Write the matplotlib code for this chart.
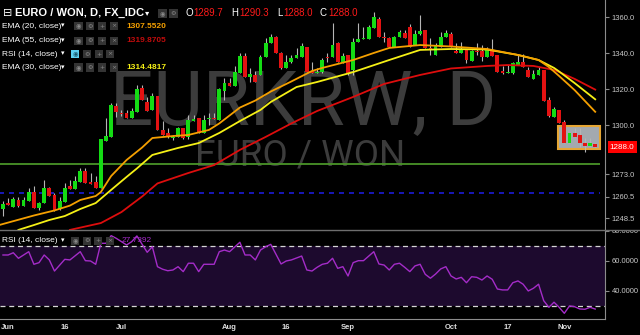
import numpy as np
import matplotlib
matplotlib.use("Agg")
import matplotlib.pyplot as plt
from matplotlib.patches import Rectangle
from matplotlib.lines import Line2D
from matplotlib.transforms import blended_transform_factory

# daily candles, index 0 = 31 May ... 115 = 9 Nov
opens = [1253.8, 1256.8, 1254.9, 1258.6, 1255.4, 1258.0, 1263.2, 1254.3, 1257.1, 1265.1,
         1261.4, 1253.4, 1257.7, 1266.4, 1264.7, 1268.8, 1274.7, 1268.8, 1268.8, 1265.1,
         1291.5, 1293.7, 1310.8, 1307.1, 1306.7, 1303.9, 1307.6, 1320.6, 1313.2, 1308.6,
         1316.3, 1297.5, 1295.6, 1292.9, 1293.4, 1298.4, 1293.4, 1302.6, 1303.9, 1295.6,
         1303.4, 1304.3, 1303.0, 1319.3, 1323.7, 1321.9, 1329.2, 1338.5, 1327.0, 1328.0,
         1328.0, 1338.1, 1345.6, 1349.2, 1340.4, 1331.7, 1335.0, 1337.6, 1338.1, 1343.7,
         1330.4, 1328.9, 1329.8, 1337.8, 1338.1, 1345.6, 1335.4, 1339.1, 1330.7, 1346.5,
         1347.8, 1347.8, 1353.9, 1358.9, 1349.2, 1348.3, 1343.7, 1349.2, 1351.1, 1354.8,
         1344.6, 1350.6, 1352.9, 1343.1, 1339.1, 1343.7, 1348.9, 1350.7, 1341.3, 1340.4,
         1342.2, 1335.9, 1341.5, 1341.5, 1338.1, 1341.9, 1339.1, 1330.2, 1328.9, 1328.9,
         1333.5, 1335.4, 1330.7, 1325.8, 1328.0, 1330.7, 1314.1, 1304.5, 1308.6, 1301.9,
         1290.0, 1295.6, 1294.7, 1290.1, 1288.6, 1289.7]
highs = [1258.2, 1259.5, 1260.4, 1260.1, 1260.4, 1265.4, 1266.4, 1257.7, 1269.7, 1266.0,
         1262.7, 1260.4, 1267.9, 1269.7, 1271.9, 1276.2, 1276.2, 1273.4, 1271.9, 1292.3,
         1303.9, 1312.4, 1312.3, 1308.6, 1308.6, 1309.5, 1322.4, 1322.4, 1315.9, 1318.0,
         1316.3, 1302.4, 1298.4, 1294.7, 1299.3, 1298.4, 1305.8, 1305.8, 1303.9, 1305.8,
         1306.7, 1306.7, 1320.8, 1326.1, 1326.1, 1333.0, 1340.2, 1340.0, 1331.7, 1330.2,
         1339.1, 1348.3, 1350.6, 1349.8, 1340.9, 1339.1, 1339.1, 1342.8, 1345.6, 1343.7,
         1335.0, 1331.7, 1337.2, 1340.2, 1357.0, 1346.5, 1340.0, 1339.1, 1348.3, 1356.7,
         1354.8, 1355.7, 1363.1, 1360.3, 1352.0, 1349.2, 1349.8, 1353.0, 1353.0, 1356.3,
         1353.0, 1361.3, 1353.0, 1348.3, 1345.6, 1352.0, 1353.0, 1351.9, 1345.6, 1346.5,
         1342.2, 1341.9, 1345.6, 1344.6, 1343.7, 1347.8, 1339.1, 1333.0, 1333.5, 1335.4,
         1339.1, 1339.6, 1332.6, 1330.7, 1332.6, 1330.7, 1315.9, 1310.4, 1308.6, 1303.0,
         1296.0, 1298.4, 1298.4, 1292.8, 1292.8, 1290.3]
lows = [1249.7, 1255.7, 1254.9, 1254.9, 1255.4, 1258.0, 1254.3, 1253.0, 1257.1, 1261.0,
        1252.5, 1253.0, 1257.7, 1264.5, 1264.7, 1268.8, 1268.2, 1267.5, 1265.1, 1265.1,
        1291.5, 1293.7, 1304.8, 1305.2, 1303.9, 1303.9, 1307.6, 1314.1, 1308.2, 1308.6,
        1297.5, 1294.7, 1292.9, 1291.9, 1293.4, 1292.3, 1292.3, 1302.6, 1295.6, 1295.6,
        1300.2, 1303.4, 1303.0, 1314.1, 1321.9, 1321.9, 1329.2, 1327.0, 1324.3, 1324.3,
        1328.0, 1338.1, 1345.6, 1340.0, 1331.3, 1331.7, 1334.5, 1337.2, 1338.1, 1329.8,
        1328.9, 1328.9, 1328.9, 1335.4, 1338.1, 1335.4, 1334.5, 1328.0, 1328.0, 1346.5,
        1347.8, 1347.8, 1353.9, 1348.9, 1346.5, 1343.7, 1343.7, 1349.2, 1348.3, 1343.7,
        1344.6, 1350.2, 1342.8, 1339.1, 1339.1, 1343.7, 1348.9, 1343.7, 1340.0, 1340.0,
        1334.5, 1335.9, 1339.1, 1335.9, 1338.1, 1338.5, 1329.8, 1328.5, 1328.9, 1328.5,
        1333.5, 1332.6, 1326.7, 1325.8, 1328.0, 1313.7, 1304.8, 1304.5, 1301.2, 1290.5,
        1290.0, 1293.7, 1288.2, 1285.4, 1288.6, 1288.0]
closes = [1256.4, 1255.7, 1259.0, 1255.4, 1258.6, 1263.2, 1254.3, 1257.1, 1265.1, 1261.0,
          1253.1, 1258.0, 1265.1, 1264.5, 1269.3, 1274.7, 1268.2, 1267.5, 1265.1, 1292.3,
          1294.1, 1311.3, 1307.6, 1306.2, 1303.9, 1308.2, 1320.2, 1314.1, 1308.2, 1316.3,
          1297.5, 1294.7, 1293.4, 1293.7, 1298.4, 1292.9, 1303.0, 1303.6, 1295.6, 1303.0,
          1304.3, 1303.4, 1320.2, 1323.7, 1321.9, 1329.8, 1338.7, 1327.0, 1328.4, 1324.3,
          1338.1, 1345.6, 1349.2, 1340.0, 1331.7, 1335.4, 1337.6, 1339.1, 1344.2, 1329.8,
          1328.9, 1329.8, 1336.3, 1337.6, 1344.6, 1335.4, 1338.7, 1328.9, 1346.5, 1347.8,
          1348.7, 1354.4, 1360.0, 1349.2, 1348.3, 1343.7, 1349.2, 1352.0, 1348.3, 1343.7,
          1350.7, 1352.4, 1342.8, 1341.9, 1344.1, 1349.2, 1351.5, 1343.7, 1340.4, 1342.4,
          1336.3, 1341.5, 1340.9, 1338.1, 1342.4, 1338.5, 1329.8, 1329.3, 1329.8, 1334.5,
          1335.4, 1332.6, 1326.7, 1328.5, 1330.7, 1313.7, 1305.2, 1308.9, 1301.2, 1290.5,
          1295.6, 1293.7, 1290.1, 1288.6, 1290.1, 1288.0]

# moving averages (bar index, value)
ema20_k = [-1, 6, 10, 13, 15, 18, 19, 21, 24, 27, 29, 33, 36, 40, 42, 46, 49, 52, 56, 60,
           62, 68, 72, 75, 81, 87, 94, 100, 104, 106, 108, 111, 115]
ema20_v = [1244.5, 1250.0, 1252.8, 1255.5, 1258.6, 1260.8, 1263.0, 1271.9, 1280.8, 1287.7,
           1293.0, 1294.1, 1294.7, 1297.5, 1301.1, 1309.9, 1313.8, 1318.8, 1324.4, 1330.2,
           1331.9, 1336.3, 1340.2, 1343.0, 1344.6, 1343.8, 1342.4, 1339.1, 1336.3, 1332.4,
           1327.4, 1319.6, 1307.552]
ema30_k = [3, 6, 9, 12, 15, 18, 21, 24, 26, 29, 34, 38, 42, 46, 50, 52, 57, 61, 68, 75,
           81, 87, 94, 100, 104, 107, 108, 111, 115]
ema30_v = [1242.0, 1244.7, 1247.5, 1249.7, 1253.6, 1256.9, 1264.2, 1271.4, 1276.1, 1283.6,
           1287.5, 1290.2, 1295.8, 1302.4, 1308.6, 1313.0, 1321.3, 1324.1, 1329.6, 1336.3,
           1341.9, 1342.4, 1342.1, 1339.1, 1336.3, 1331.9, 1329.9, 1323.5, 1314.4817]
ema55_k = [13, 19, 23, 27, 30, 36, 41, 46, 51, 56, 61, 68, 74, 81, 87, 94, 98, 103, 107,
           108, 111, 115]
ema55_v = [1242.0, 1245.8, 1251.9, 1260.5, 1267.8, 1273.6, 1278.0, 1286.4, 1293.6, 1301.1,
           1308.0, 1315.8, 1323.0, 1328.0, 1331.6, 1333.0, 1333.5, 1333.0, 1330.8, 1329.6,
           1325.8, 1319.8705]

rsi_k = [0, 1, 2, 3, 5, 6, 7, 8, 9, 10, 12, 13, 15, 16, 17, 18, 19, 20, 21, 22, 24, 25, 26,
         28, 29, 30, 31, 32, 33, 34, 35, 36, 37, 38, 39, 41, 42, 43, 44, 46, 47, 48, 49, 50,
         51, 52, 54, 55, 56, 58, 59, 60, 61, 62, 63, 64, 65, 66, 67, 68, 69, 70, 72, 73, 74,
         75, 76, 77, 78, 79, 80, 81, 82, 83, 84, 85, 86, 87, 88, 89, 90, 91, 92, 93, 94, 95,
         96, 97, 98, 99, 100, 101, 102, 103, 104, 105, 106, 107, 108, 109, 110, 111, 112,
         113, 114, 115]
rsi_v = [63.8, 63.8, 65.3, 61.6, 66.0, 57.6, 58.7, 63.8, 60.5, 53.1, 60.9, 60.5, 66.0, 60.0,
         59.8, 57.6, 71.6, 71.6, 76.7, 74.9, 70.5, 72.7, 76.5, 65.6, 69.3, 56.0, 54.3, 53.3,
         53.8, 56.0, 52.7, 58.3, 58.3, 52.7, 57.6, 57.6, 66.0, 67.1, 66.0, 72.3, 63.8, 63.8,
         60.5, 67.1, 69.3, 70.9, 57.8, 59.8, 60.5, 63.1, 53.8, 53.1, 55.6, 57.6, 58.3, 61.6,
         54.9, 56.0, 49.8, 58.7, 60.0, 60.0, 66.0, 57.8, 57.1, 53.8, 57.6, 58.3, 55.6, 52.7,
         56.5, 57.6, 50.9, 48.3, 51.1, 54.5, 56.0, 49.8, 47.8, 48.9, 45.3, 49.3, 48.9, 47.1,
         49.8, 47.6, 41.1, 40.5, 40.5, 45.3, 46.5, 44.3, 39.8, 41.6, 44.3, 33.3, 28.9, 32.3,
         28.9, 24.9, 29.8, 29.3, 27.8, 27.6, 28.9, 27.74]

date_k = [1, 12, 23, 44, 55, 67, 87, 98, 109]
date_lbl = ["Jun", "16", "Jul", "Aug", "16", "Sep", "Oct", "17", "Nov"]
price_ticks = [1360.0, 1340.0, 1320.0, 1300.0, 1273.0, 1260.5, 1248.5]
rsi_ticks = [80, 60, 40]

support = 1278.6
dashed_level = 1262.5

W, H = 640, 335
FONT = ["Liberation Sans", "DejaVu Sans"]
GREEN = "#14dc14"
RED = "#e31212"
WICK = "#b5b5b5"
LABEL = "#c8c8c8"

fig = plt.figure(figsize=(W / 100, H / 100), dpi=100)
fig.patch.set_facecolor("black")

ax = fig.add_axes([0, 1 - 230 / H, 605 / W, 230 / H])
ax_rsi = fig.add_axes([0, 1 - 319 / H, 605 / W, 89 / H], sharex=ax)

for a in (ax, ax_rsi):
    a.set_facecolor("black")
    for side in ("top", "left", "bottom"):
        a.spines[side].set_visible(False)
    a.spines["right"].set_color("#8c8c8c")
    a.yaxis.tick_right()
    a.tick_params(axis="y", length=3, color="#8c8c8c", labelsize=5.5,
                  labelcolor=LABEL, pad=2)

# ---- price panel
idx = np.arange(len(closes))
o = np.array(opens)
c = np.array(closes)
body_lo = np.minimum(o, c)
body_h = np.maximum(np.abs(c - o), 0.5)
colors = np.where(c >= o, GREEN, RED)

ax.vlines(idx, lows, highs, color=WICK, lw=0.8, zorder=3)
ax.bar(idx, body_h, bottom=body_lo, width=0.74, color=colors, lw=0, zorder=4)

ax.plot(ema55_k, ema55_v, color="#dd0d0d", lw=1.3, zorder=5)
ax.plot(ema30_k, ema30_v, color="#f5f016", lw=1.3, zorder=5)
ax.plot(ema20_k, ema20_v, color="#f5a000", lw=1.3, zorder=5)

ax.hlines(support, -1, 115.9, color="#4a9428", lw=1.3, zorder=2)
ax.hlines(dashed_level, -1, 115.9, color="#1c1cd8", lw=1.2, linestyles=(0, (3, 3)), zorder=2)
ax.add_patch(Rectangle((107.8, 1287.1), 8.1, 12.6, fc="#a3a9af", ec="#e6a634",
                       lw=1.5, zorder=2))

ax.set_xlim(-0.58, 116.9)
ax.set_ylim(1241.95, 1369.6)
ax.set_yticks(price_ticks)
ax.set_yticklabels([f"{t:.1f}" for t in price_ticks], family=FONT)
ax.tick_params(axis="x", bottom=False, labelbottom=False)

trans = blended_transform_factory(ax.transAxes, ax.transData)
ax.text(1.008, closes[-1], f"{closes[-1]:.1f}", transform=trans, color="white",
        fontsize=5.8, family=FONT, va="center", ha="left", zorder=10,
        bbox=dict(fc="#ff0000", ec="none", pad=1.6))

# watermark
ax.text(303.5 / 605, 1 - 125 / 230, "EURKRW, D", transform=ax.transAxes, ha="center",
        va="baseline", fontsize=55, family="Roboto", color="#3c3c3c", zorder=0.5)
ax.text(300 / 605, 1 - 165 / 230, "EURO / WON", transform=ax.transAxes, ha="center",
        va="baseline", fontsize=26.5, family="Roboto", color="#3c3c3c", zorder=0.5)

# ---- RSI panel
ax_rsi.axhspan(30, 70, color="#1d0a2e", lw=0, zorder=1)
for lvl in (70, 30):
    ax_rsi.axhline(lvl, color="#d5d5d5", lw=0.9, ls=(0, (4, 3)), zorder=2)
ax_rsi.plot(rsi_k, rsi_v, color="#a42cc8", lw=1.0, zorder=3)
ax_rsi.set_ylim(21.1, 80.47)
ax_rsi.set_yticks(rsi_ticks)
ax_rsi.set_yticklabels([f"{t:.4f}" for t in rsi_ticks], family=FONT)
ax_rsi.spines["bottom"].set_visible(True)
ax_rsi.spines["bottom"].set_color("#8c8c8c")
ax_rsi.set_xticks(date_k)
ax_rsi.set_xticklabels(date_lbl, family=FONT, fontweight="bold")
ax_rsi.tick_params(axis="x", length=0, pad=3.5, labelsize=5.5, labelcolor="#e0e0e0")


# ---- overlay text / chrome in pixel coords
def ftext(x, y, s, color, size, weight="normal", ha="left"):
    fig.text(x / W, 1 - y / H, s, color=color, fontsize=size, fontweight=weight,
             ha=ha, va="center", family=FONT, zorder=12)


def icon(x, y, sym, fc="#343434", tc="#8a8a8a", size=8.5):
    fig.add_artist(Rectangle(((x - size / 2) / W, 1 - (y + size / 2) / H), size / W,
                             size / H, transform=fig.transFigure, fc=fc, ec="none",
                             zorder=11))
    fig.text(x / W, 1 - y / H, sym, color=tc, fontsize=4.5, ha="center", va="center",
             family=["DejaVu Sans"], zorder=12)


# hide the top half of the 80.0000 label and draw the panel separator
fig.add_artist(Rectangle((606 / W, 1 - 230.5 / H), 34 / W, 7 / H, transform=fig.transFigure,
                         fc="black", ec="none", zorder=10))
fig.add_artist(Line2D([0, 1], [1 - 230 / H] * 2, transform=fig.transFigure,
                      color="#6e6e6e", lw=1.0, zorder=11))

ftext(2.5, 13.3, "\u229f", "white", 8)
ftext(15, 13.3, "EURO / WON, D, FX_IDC", "white", 8, "bold")
ftext(145, 13.3, "\u25be", "white", 6)
icon(162.5, 13.3, "\u25c9", size=9)
icon(173.5, 13.3, "\u2699", size=9)
ohlc = [("O", 185, f"{opens[-1]:.1f}", 193), ("H", 231, f"{highs[-1]:.1f}", 239),
        ("L", 277, f"{lows[-1]:.1f}", 283), ("C", 320, f"{closes[-1]:.1f}", 328)]
for letter, lx, val, vx in ohlc:
    ftext(lx, 13.3, letter, "white", 7)
    ftext(vx, 13.3, val, "#ff1a1a", 7)

rows = [("EMA (20, close)", 26, "1307.5520", "#f5a000"),
        ("EMA (55, close)", 41, "1319.8705", "#c00c0c"),
        ("RSI (14, close)", 54, None, None),
        ("EMA (30, close)", 67.7, "1314.4817", "#f5f016")]
for name, y, val, col in rows:
    ftext(2, y, name, "white", 6)
    ftext(61, y, "\u25be", "white", 5)
    if val is None:
        icon(75, y, "\u25c9", fc="#5cd0f0", tc="#1a5a70")
        icon(87, y, "\u2699")
        icon(99, y, "+")
        icon(110, y, "\u00d7")
    else:
        icon(78.5, y, "\u25c9")
        icon(90, y, "\u2699")
        icon(102, y, "+")
        icon(114, y, "\u00d7")
        ftext(126, y, val, col, 6, "bold")

ftext(2, 241, "RSI (14, close)", "white", 6)
ftext(61, 241, "\u25be", "white", 5)
icon(75, 241, "\u25c9")
icon(87, 241, "\u2699")
icon(98, 241, "+")
icon(110, 241, "\u00d7")
ftext(122, 241, "27.7392", "#a42cc8", 6)

fig.savefig("out.png", dpi=100, facecolor="black")
